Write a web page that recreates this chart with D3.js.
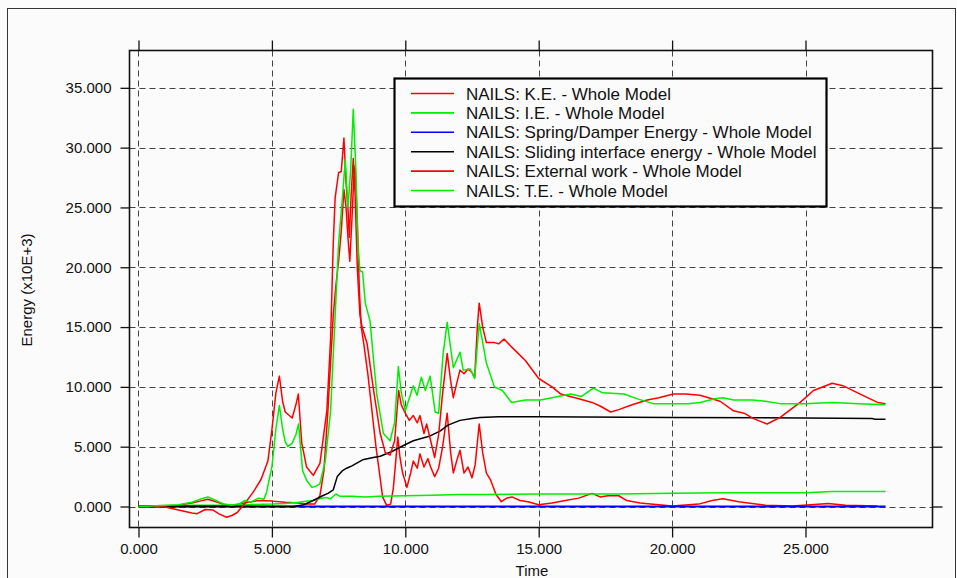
<!DOCTYPE html>
<html>
<head>
<meta charset="utf-8">
<script src="https://cdn.jsdelivr.net/npm/d3@7"></script>
<style>
html,body{margin:0;padding:0;background:#fbfbfb;}
svg{display:block;}
text{font-family:"Liberation Sans",Arial,sans-serif;fill:#111;}
</style>
</head>
<body>
<svg id="chart" width="957" height="578"></svg>
<script>
// ---- data (time, energy x10E+3) ----
const keData = [[0,0],[0.5,0],[1,0.05],[1.5,0.1],[2,0.3],[2.3,0.45],[2.6,0.6],[2.9,0.4],[3.3,0.1],[3.7,0.15],[4.1,0.35],[4.5,0.5],[5,0.45],[5.5,0.35],[6,0.3],[6.3,0.2],[6.6,0.2],[6.8,0.9],[6.95,3],[7.1,8],[7.2,12],[7.3,16],[7.4,18.5],[7.5,20.5],[7.6,23],[7.7,26.5],[7.78,25],[7.85,22.5],[7.92,20.5],[8.0,24],[8.07,27.5],[8.12,28.5],[8.2,24],[8.28,18],[8.35,15],[8.45,13.5],[8.6,11],[8.75,8],[8.9,5],[9.05,2.5],[9.15,0.8],[9.3,0.1],[9.45,0.2],[9.55,1.5],[9.65,4],[9.72,5.8],[9.8,4.1],[9.9,2.8],[10.06,1.6],[10.2,2.8],[10.3,3.8],[10.45,3.2],[10.55,4.4],[10.7,3.3],[10.85,4.0],[10.95,3.3],[11.1,2.5],[11.25,3.2],[11.4,5],[11.57,7.8],[11.7,4.5],[11.8,2.8],[11.95,4],[12.05,4.7],[12.2,2.8],[12.35,3.3],[12.5,2.4],[12.62,3.5],[12.77,6.9],[12.9,4.5],[13.04,2.8],[13.2,2.2],[13.4,1.0],[13.6,0.4],[13.8,0.7],[14.0,0.8],[14.3,0.5],[14.6,0.4],[15.0,0.15],[15.5,0.3],[16,0.5],[16.5,0.7],[17,1.1],[17.3,0.8],[17.6,0.9],[18,0.9],[18.3,0.5],[18.8,0.3],[19.5,0.15],[20,0.05],[21,0.2],[21.5,0.5],[21.9,0.65],[22.5,0.4],[23,0.25],[23.5,0.1],[24.5,0.05],[25.2,0.15],[25.85,0.25],[26.5,0.1],[27.7,0.05]];
const ieData = [[0,0],[1,0.05],[2,0.1],[3,0.1],[4,0.15],[5,0.2],[5.5,0.25],[6,0.35],[6.5,0.5],[6.8,0.65],[7.0,0.75],[7.2,0.65],[7.4,1.05],[7.55,0.85],[8,0.85],[8.5,0.8],[9,0.85],[10,0.9],[11,0.95],[12,1.0],[13,1.0],[15,1.05],[18,1.05],[20,1.1],[22,1.15],[25,1.15],[26,1.25],[28,1.25]];
const springData = [[0,0],[28,0]];
const slidingData = [[0,0],[5.8,0],[6.2,0.15],[6.55,0.5],[6.9,0.9],[7.1,1.1],[7.3,1.4],[7.45,2.5],[7.65,3.0],[7.8,3.2],[8.0,3.4],[8.4,3.9],[8.8,4.1],[9.06,4.2],[9.5,4.6],[9.93,5.1],[10.3,5.5],[10.93,5.9],[11.3,6.3],[11.6,6.8],[12.05,7.2],[12.5,7.35],[12.8,7.45],[13.5,7.5],[15,7.5],[20,7.45],[25,7.4],[27.5,7.35],[27.6,7.3],[28,7.3]];
const extData = [[0,0],[0.5,0],[1.0,-0.05],[1.5,-0.3],[2.0,-0.55],[2.2,-0.6],[2.5,-0.25],[2.8,-0.3],[3.0,-0.6],[3.3,-0.9],[3.5,-0.75],[3.7,-0.5],[4.0,0.3],[4.3,1.2],[4.6,2.3],[4.85,3.8],[5.0,6.4],[5.15,9.5],[5.28,10.9],[5.4,8.8],[5.5,7.9],[5.76,7.4],[5.9,8.5],[5.99,9.4],[6.12,5.3],[6.3,3.3],[6.55,2.6],[6.8,3.6],[7.06,8.0],[7.2,14],[7.3,22],[7.37,25.8],[7.5,27.9],[7.6,28],[7.7,30.8],[7.78,27],[7.85,25],[7.9,22.5],[7.97,26],[8.05,29.1],[8.12,26],[8.2,20],[8.3,16],[8.38,15],[8.57,13.6],[8.8,9.9],[9.06,6.1],[9.25,4.5],[9.43,4.3],[9.6,5.5],[9.75,9.7],[9.85,8.5],[10.0,7.8],[10.15,7.2],[10.3,7.6],[10.45,7.0],[10.55,7.6],[10.7,6.1],[10.8,6.9],[10.95,5.5],[11.1,4.1],[11.25,6],[11.4,9.5],[11.57,12.8],[11.7,10.5],[11.8,9.1],[11.95,10.5],[12.05,11.4],[12.2,11.1],[12.35,11.5],[12.5,11.2],[12.6,10.8],[12.7,15],[12.77,17.0],[12.9,15],[13.04,13.7],[13.34,13.7],[13.5,13.6],[13.7,14.0],[14.0,13.3],[14.5,12.2],[15.0,10.7],[15.5,10.0],[15.83,9.4],[16.5,9.0],[17,8.7],[17.3,8.4],[17.7,7.9],[18.0,8.1],[18.5,8.5],[19.07,8.9],[19.5,9.1],[20.05,9.4],[20.5,9.4],[21.05,9.3],[21.8,8.8],[22.3,8.0],[22.7,7.8],[23.05,7.35],[23.56,6.9],[24.05,7.45],[24.8,8.7],[25.3,9.7],[26.0,10.3],[26.4,10.1],[27.05,9.4],[27.7,8.7],[28,8.6]];
const teData = [[0,0],[0.5,0.05],[1,0.1],[1.5,0.15],[2,0.35],[2.3,0.6],[2.6,0.8],[2.9,0.5],[3.2,0.2],[3.5,0.1],[3.8,0.25],[4.0,0.5],[4.2,0.35],[4.5,0.7],[4.7,0.6],[4.8,1.2],[5.0,3.3],[5.15,6.5],[5.28,8.45],[5.4,6.5],[5.5,5.4],[5.6,5.0],[5.76,5.3],[5.9,6.0],[6.0,6.9],[6.15,3.0],[6.3,2.2],[6.5,1.6],[6.65,1.7],[6.8,1.9],[7.0,3.8],[7.2,8],[7.35,15],[7.5,22],[7.65,26],[7.75,29],[7.85,25],[7.95,28],[8.05,33.2],[8.15,28],[8.22,22],[8.3,19.7],[8.4,19.6],[8.5,17],[8.68,15.5],[8.8,12.5],[8.93,9.4],[9.18,6.1],[9.43,5.5],[9.6,7],[9.74,11.7],[9.85,9.5],[10.0,8.0],[10.3,10.1],[10.44,9.3],[10.6,10.8],[10.75,9.7],[10.93,10.9],[11.12,7.9],[11.25,7.8],[11.42,12.8],[11.57,15.4],[11.8,11.6],[12.05,12.9],[12.17,11.4],[12.43,11.5],[12.6,10.7],[12.77,15.3],[13.04,12],[13.34,10],[13.64,9.7],[13.98,8.7],[14.5,8.9],[15.06,8.9],[15.5,9.1],[16.2,9.4],[16.6,9.2],[17.05,9.9],[17.4,9.5],[18.2,9.4],[18.7,9.0],[19.3,8.6],[20.6,8.6],[21.05,8.7],[21.6,9.0],[21.9,9.1],[22.3,8.9],[23.0,8.9],[23.5,8.8],[24.05,8.6],[25,8.6],[26,8.7],[27,8.6],[28,8.5]];

const seriesNames = ["NAILS: K.E. - Whole Model","NAILS: I.E. - Whole Model","NAILS: Spring/Damper Energy - Whole Model","NAILS: Sliding interface energy - Whole Model","NAILS: External work - Whole Model","NAILS: T.E. - Whole Model"];
const seriesColors = ["#ff0000","#00ee00","#0000ff","#000000","#ff0000","#00ee00"];
const seriesData = [keData, ieData, springData, slidingData, extData, teData];
const xTicks = [0,5,10,15,20,25];
const yTicks = [0,5,10,15,20,25,30,35];
const xLabel = "Time";
const yLabel = "Energy (x10E+3)";

// ---- layout ----
const svg = d3.select("#chart");
const L = 129.5, R = 932.5, T = 50.5, B = 527.5;
const x = d3.scaleLinear().domain([-0.337, 29.76]).range([L, R]);
const y = d3.scaleLinear().domain([-1.755, 38.12]).range([B, T]);
const fmt = d3.format(".3f");

svg.append("rect").attr("x",0).attr("y",0).attr("width",957).attr("height",578).attr("fill","#fbfbfb");
svg.append("rect").attr("x",7.5).attr("y",8.5).attr("width",948).attr("height",580)
  .attr("fill","none").attr("stroke","#333").attr("stroke-width",1);

// grid
const grid = svg.append("g");
grid.selectAll(".gx").data(xTicks).join("line")
  .attr("x1",d=>Math.round(x(d))+0.5).attr("x2",d=>Math.round(x(d))+0.5)
  .attr("y1",T).attr("y2",B)
  .attr("stroke","#444").attr("stroke-width",1).attr("stroke-dasharray","6,4");
grid.selectAll(".gy").data(yTicks).join("line")
  .attr("y1",d=>Math.round(y(d))+0.5).attr("y2",d=>Math.round(y(d))+0.5)
  .attr("x1",L).attr("x2",R)
  .attr("stroke","#444").attr("stroke-width",1).attr("stroke-dasharray","6,4");

// axes (ticks outside the box on all four sides)
const axB = d3.axisBottom(x).tickValues(xTicks).tickFormat(fmt).tickSize(10).tickPadding(6);
const axT = d3.axisTop(x).tickValues(xTicks).tickFormat("").tickSize(10);
const axL = d3.axisLeft(y).tickValues(yTicks).tickFormat(fmt).tickSize(9).tickPadding(9);
const axR = d3.axisRight(y).tickValues(yTicks).tickFormat("").tickSize(10);
function styleAxis(g){
  g.select(".domain").remove();
  g.selectAll(".tick line").attr("stroke","#111").attr("stroke-width",1.3);
  g.selectAll("text").style("font-family","'Liberation Sans',Arial,sans-serif").style("font-size","15px").attr("fill","#111");
}
svg.append("g").attr("transform",`translate(0,${B})`).call(axB).call(styleAxis);
svg.append("g").attr("transform",`translate(0,${T})`).call(axT).call(styleAxis);
svg.append("g").attr("transform",`translate(${L},0)`).call(axL).call(styleAxis);
svg.append("g").attr("transform",`translate(${R},0)`).call(axR).call(styleAxis);

// lines
const clip = svg.append("clipPath").attr("id","clip").append("rect")
  .attr("x",L).attr("y",T).attr("width",R-L).attr("height",B-T);
const line = d3.line().x(d=>x(d[0])).y(d=>y(d[1]));
const plot = svg.append("g").attr("clip-path","url(#clip)");
seriesData.forEach((data,i)=>{
  plot.append("path").datum(data).attr("d",line)
    .attr("fill","none").attr("stroke",seriesColors[i])
    .attr("stroke-width", i===2 ? 2.2 : 1.5).attr("stroke-linejoin","round");
});

// box
svg.append("rect").attr("x",L).attr("y",T).attr("width",R-L).attr("height",B-T)
  .attr("fill","none").attr("stroke","#111").attr("stroke-width",1.6);

// axis titles
svg.append("text").attr("x",(L+R)/2+1).attr("y",576).attr("text-anchor","middle")
  .style("font-size","15px").text(xLabel);
svg.append("text").attr("transform","translate(32,290) rotate(-90)").attr("text-anchor","middle")
  .style("font-size","15px").text(yLabel);

// legend
const lg = svg.append("g");
lg.append("rect").attr("x",394.5).attr("y",78.5).attr("width",432).attr("height",128)
  .attr("fill","#fbfbfb").attr("stroke","#000").attr("stroke-width",2.2);
seriesNames.forEach((name,i)=>{
  const cy = 93.5 + i*19.4;
  lg.append("line").attr("x1",411).attr("x2",454).attr("y1",cy).attr("y2",cy)
    .attr("stroke",seriesColors[i]).attr("stroke-width",1.6);
  lg.append("text").attr("x",466).attr("y",cy).attr("dy","0.36em")
    .style("font-size","17px").text(name);
});
</script>
</body>
</html>
